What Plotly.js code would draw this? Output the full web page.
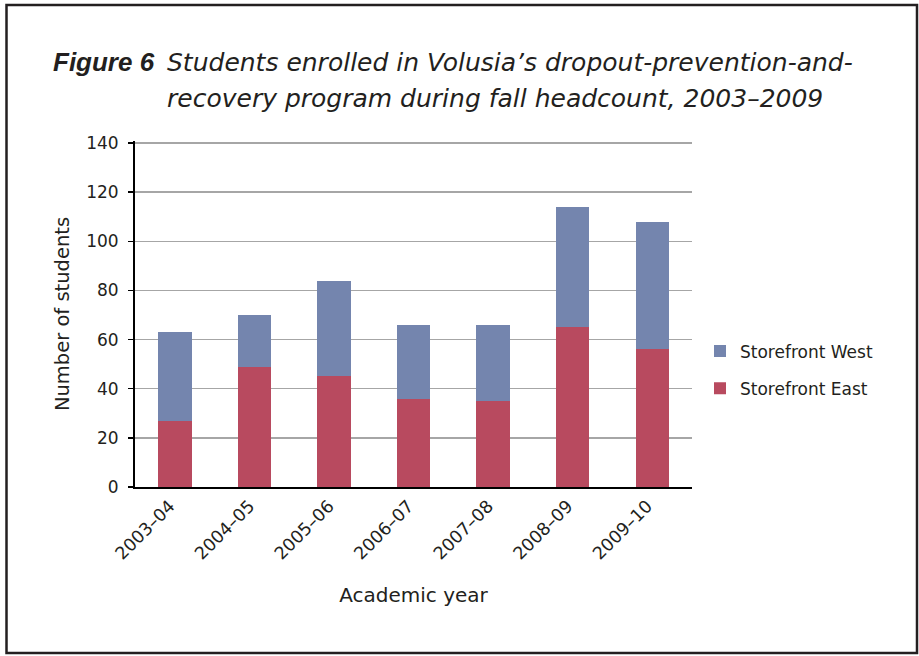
<!DOCTYPE html>
<html>
<head>
<meta charset="utf-8">
<script src="https://cdn.plot.ly/plotly-3.0.1.min.js"></script>
<style>
html, body { margin: 0; padding: 0; background: #fff; }
#chart { width: 919px; height: 656px; }
</style>
</head>
<body>
<div id="chart"></div>
<script>
const years = ["2003–04", "2004–05", "2005–06", "2006–07", "2007–08", "2008–09", "2009–10"];
const storefrontEast = [27, 49, 45, 36, 35, 65, 56];
const storefrontWest = [36, 21, 39, 30, 31, 49, 52];
const yTicks = [0, 20, 40, 60, 80, 100, 120, 140];

const FONT = "DejaVu Sans, sans-serif";
const TXT = "#231f20";

// plot area in pixels
const L = 135, R = 692, T = 141, B = 487;
const px = x => (x - L) / (R - L);
const py = y => (B - y) / (B - T);

const traces = [
  {
    type: "bar", name: "Storefront East", x: years, y: storefrontEast,
    marker: { color: "#b84a5f", line: { width: 0 } }, legendgroup: "e", legendrank: 2
  },
  {
    type: "bar", name: "Storefront West", x: years, y: storefrontWest,
    marker: { color: "#7485ae", line: { width: 0 } }, legendgroup: "w", legendrank: 1
  }
];

const layout = {
  width: 919, height: 656,
  margin: { l: L, r: 919 - R, t: T, b: 656 - B, pad: 0 },
  paper_bgcolor: "#fff", plot_bgcolor: "#fff",
  barmode: "stack", bargap: 0.58,
  font: { family: FONT, color: TXT, size: 16 },
  showlegend: true,
  legend: {
    x: px(700), xanchor: "left", y: py(370), yanchor: "middle",
    traceorder: "grouped", tracegroupgap: 12,
    font: { family: FONT, size: 17, color: TXT },
    bgcolor: "rgba(0,0,0,0)", itemwidth: 30
  },
  xaxis: {
    type: "category", tickangle: -45,
    tickfont: { family: FONT, size: 17.5, color: TXT },
    ticklabelshift: -5,
    showline: true, linecolor: "#000", linewidth: 2,
    ticks: "", showgrid: false,
    title: { text: "Academic year", font: { family: FONT, size: 20, color: TXT }, standoff: 25 },
    automargin: true
  },
  yaxis: {
    range: [0, 140.8], tickvals: yTicks, ticktext: yTicks.map(String),
    tickfont: { family: FONT, size: 17, color: TXT },
    showline: true, linecolor: "#000", linewidth: 2,
    ticks: "outside", ticklen: 5, tickcolor: "#000", tickwidth: 1.5,
    showgrid: true, gridcolor: "#a6a6a6", gridwidth: 1.5,
    zeroline: false, ticklabelstandoff: 6,
    title: { text: "Number of students", font: { family: FONT, size: 19.5, color: TXT }, standoff: 11 },
    automargin: true
  },
  annotations: [
    {
      xref: "paper", yref: "paper", x: px(51), y: py(62), xanchor: "left", yanchor: "middle",
      text: "<b><i>Figure 6</i></b>", showarrow: false,
      font: { family: "Liberation Sans, Arial, sans-serif", size: 26, color: TXT }
    },
    {
      xref: "paper", yref: "paper", x: px(165), y: py(62), xanchor: "left", yanchor: "middle",
      text: "<i>Students enrolled in Volusia’s dropout-prevention-and-</i>", showarrow: false,
      font: { family: FONT, size: 25, color: TXT }
    },
    {
      xref: "paper", yref: "paper", x: px(165), y: py(98), xanchor: "left", yanchor: "middle",
      text: "<i>recovery program during fall headcount, 2003–2009</i>", showarrow: false,
      font: { family: FONT, size: 25, color: TXT }
    }
  ],
  shapes: [
    {
      type: "rect", xref: "paper", yref: "paper",
      x0: px(6.5), x1: px(917), y0: py(5), y1: py(653),
      line: { color: "#231f20", width: 2.5 }, fillcolor: "rgba(0,0,0,0)", layer: "above"
    }
  ]
};

Plotly.newPlot("chart", traces, layout, { displayModeBar: false, staticPlot: true });
</script>
</body>
</html>
